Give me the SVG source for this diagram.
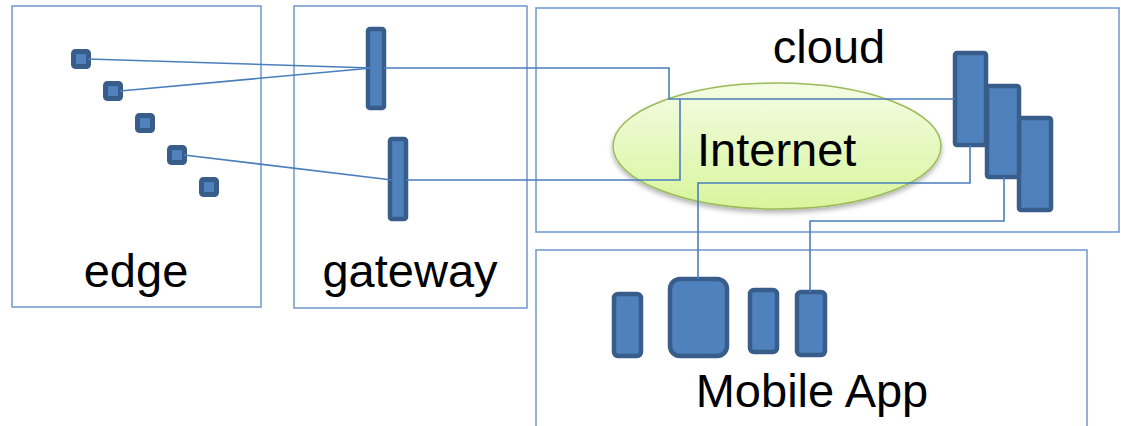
<svg xmlns="http://www.w3.org/2000/svg" width="1121" height="426" viewBox="0 0 1121 426">
  <style>
    .zone { fill: none; stroke: #6F96CB; stroke-width: 1.5; }
    .dev { fill: #4F81BD; stroke: #385D8A; stroke-width: 4.5; }
    .sensor { fill: #4F81BD; stroke: #385D8A; stroke-width: 5; }
    .wire { fill: none; stroke: #4A7EBB; stroke-width: 1.6; }
    .label { font-family: "Liberation Sans", Arial, sans-serif; font-size: 47px; fill: #000; }
  </style>
  <defs>
    <linearGradient id="netFill" x1="0" y1="0" x2="0" y2="1">
      <stop offset="0" stop-color="#F4FCE4"/>
      <stop offset="1" stop-color="#D8F59C"/>
    </linearGradient>
    <filter id="shadow" x="-10%" y="-10%" width="120%" height="130%">
      <feDropShadow dx="0" dy="3" stdDeviation="2.5" flood-color="#000" flood-opacity="0.3"/>
    </filter>
  </defs>

  <!-- edge zone with sensors -->
  <g id="edge">
    <rect class="zone" x="12" y="6" width="249" height="301"/>
    <rect class="sensor" x="73.5" y="51.5" width="15" height="15" rx="2"/>
    <rect class="sensor" x="105.5" y="83.5" width="15" height="15" rx="2"/>
    <rect class="sensor" x="137.5" y="115.5" width="15" height="15" rx="2"/>
    <rect class="sensor" x="169.5" y="147.5" width="15" height="15" rx="2"/>
    <rect class="sensor" x="201.5" y="179.5" width="15" height="15" rx="2"/>
    <text class="label" x="136" y="287" text-anchor="middle">edge</text>
  </g>

  <!-- gateway zone -->
  <g id="gateway">
    <rect class="zone" x="294" y="6" width="233" height="302"/>
    <rect class="dev" x="368" y="29" width="16" height="79" rx="2"/>
    <rect class="dev" x="390" y="139" width="16" height="80" rx="2"/>
    <text class="label" x="410" y="287" text-anchor="middle">gateway</text>
  </g>

  <!-- cloud zone -->
  <g id="cloud">
    <rect class="zone" x="536" y="8" width="583" height="224"/>
    <text class="label" x="829" y="63" text-anchor="middle">cloud</text>
  </g>

  <!-- mobile app zone -->
  <g id="mobile-app">
    <rect class="zone" x="536" y="250" width="551" height="190"/>
    <rect class="dev" x="614" y="294" width="27" height="62" rx="4"/>
    <rect class="dev" x="670" y="279" width="57" height="77" rx="10"/>
    <rect class="dev" x="750" y="290" width="27" height="62" rx="4"/>
    <rect class="dev" x="797" y="292" width="28" height="63" rx="4"/>
    <text class="label" x="812" y="407" text-anchor="middle">Mobile App</text>
  </g>

  <!-- internet -->
  <g id="internet">
    <ellipse cx="777" cy="146" rx="164" ry="63" fill="url(#netFill)" stroke="#9BBB59" stroke-width="1.5" filter="url(#shadow)"/>
  </g>

  <!-- cloud servers -->
  <g id="servers">
    <rect class="dev" x="1019" y="118" width="32" height="92" rx="2"/>
    <rect class="dev" x="987" y="86" width="32" height="91" rx="2"/>
    <rect class="dev" x="955" y="53" width="31" height="92" rx="2"/>
  </g>

  <!-- connectors -->
  <g id="connectors">
    <polyline class="wire" points="88,59 372,68"/>
    <polyline class="wire" points="120,91 372,68"/>
    <polyline class="wire" points="184,155 392,180"/>
    <polyline class="wire" points="384,68 669,68 669,99 955,99"/>
    <polyline class="wire" points="406,180 680,180 680,99"/>
    <polyline class="wire" points="970,145 970,183 698,183 698,279"/>
    <polyline class="wire" points="1004,177 1004,221 810,221 810,292"/>
  </g>

  <text class="label" x="697" y="166">Internet</text>
</svg>
